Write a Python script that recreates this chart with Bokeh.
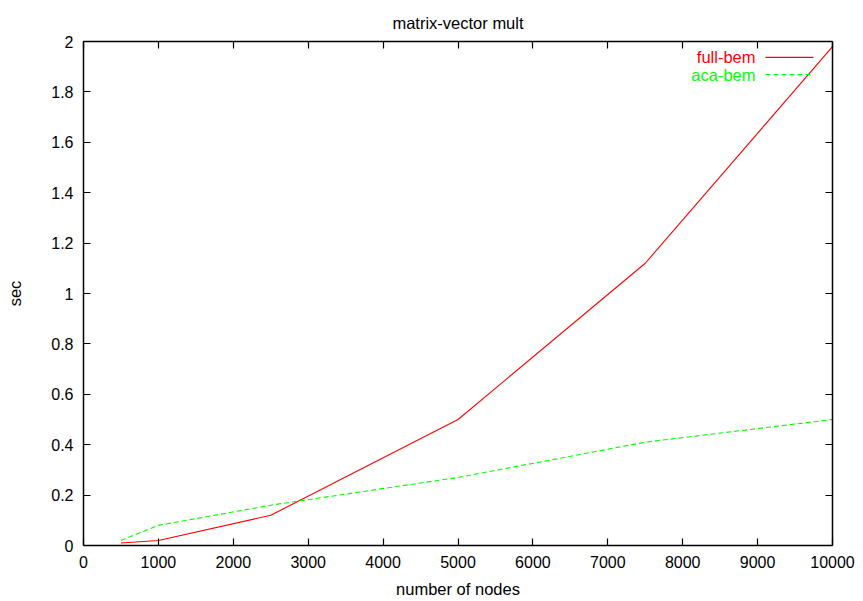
from bokeh.plotting import figure
from bokeh.models import (Range1d, LinearAxis, SingleIntervalTicker, Label, Arrow,
                          CustomJSTickFormatter, ColumnDataSource)
from bokeh.embed import file_html
from bokeh.resources import INLINE

# timings (seconds) for matrix-vector multiplication
nodes = [500, 1000, 2500, 5000, 7500, 10000]
full_bem = [0.01, 0.02, 0.12, 0.50, 1.12, 1.98]
aca_bem = [0.02, 0.08, 0.16, 0.27, 0.41, 0.50]

series_names = ["full-bem", "aca-bem"]
series_colors = ["#ff0000", "#00ff00"]

FONT = "Liberation Sans"
TEXT_SIZE = "16.5px"
TICK_SIZE = "16px"
X_MAX, Y_MAX = 10000, 2.0

p = figure(width=863, height=601, output_backend="svg", toolbar_location=None,
           x_range=Range1d(0, X_MAX), y_range=Range1d(0, Y_MAX),
           min_border_left=83, min_border_right=31, min_border_top=41, min_border_bottom=56)
p.title.text = "matrix-vector mult"
p.title.align = "center"
p.title.text_font = FONT
p.title.text_font_size = TEXT_SIZE
p.title.text_font_style = "normal"
p.title.text_color = "#000000"
p.title.standoff = 20

p.grid.visible = False
p.outline_line_color = None
p.background_fill_color = "white"
p.border_fill_color = "white"

xt = SingleIntervalTicker(interval=1000, num_minor_ticks=0)
yt = SingleIntervalTicker(interval=0.2, num_minor_ticks=0)


def style_axis(ax, ticker):
    ax.ticker = ticker
    ax.axis_line_color = "#000000"
    ax.axis_line_width = 1.5
    ax.major_tick_line_color = "#000000"
    ax.major_tick_line_width = 1.2
    ax.major_tick_in = 7
    ax.major_tick_out = 0
    ax.minor_tick_line_color = None
    ax.major_label_text_font = FONT
    ax.major_label_text_font_size = TICK_SIZE
    ax.major_label_text_color = "#000000"
    ax.axis_label_text_font = FONT
    ax.axis_label_text_font_size = TEXT_SIZE
    ax.axis_label_text_font_style = "normal"
    ax.axis_label_text_color = "#000000"


style_axis(p.xaxis[0], xt)
style_axis(p.yaxis[0], yt)
p.xaxis[0].axis_label = "number of nodes"
p.xaxis[0].major_label_standoff = 10
p.xaxis[0].axis_label_standoff = 9
p.yaxis[0].axis_label = "sec"
p.yaxis[0].major_label_standoff = 10
p.yaxis[0].axis_label_standoff = 24
p.yaxis[0].formatter = CustomJSTickFormatter(code="return String(Math.round(tick*10)/10);")

# mirrored frame on top and right (ticks only, no labels)
blank = CustomJSTickFormatter(code="return '';")
top = LinearAxis(formatter=blank)
style_axis(top, xt)
top.major_label_standoff = 0
top.major_label_text_font_size = "0px"
right = LinearAxis(formatter=blank)
style_axis(right, yt)
right.major_label_standoff = 0
right.major_label_text_font_size = "0px"
p.add_layout(top, "above")
p.add_layout(right, "right")

src = ColumnDataSource(dict(x=nodes, full=full_bem, aca=aca_bem))
p.line("x", "full", source=src, line_color=series_colors[0], line_width=1.1)
p.line("x", "aca", source=src, line_color=series_colors[1], line_width=1.1, line_dash="5 3")

# key in the upper right corner: label text then a line sample
key_text_x = 0.8972 * X_MAX
key_line = (0.9105 * X_MAX, 0.9746 * X_MAX)
key_rows = [0.9685 * Y_MAX, 0.9345 * Y_MAX]
dashes = ["solid", "5 3"]
for name, color, yy, dash in zip(series_names, series_colors, key_rows, dashes):
    p.add_layout(Label(x=key_text_x, y=yy, text=name, text_align="right",
                       text_baseline="middle", text_color=color, text_font=FONT,
                       text_font_size=TEXT_SIZE))
    p.add_layout(Arrow(x_start=key_line[0], y_start=yy, x_end=key_line[1], y_end=yy,
                       end=None, line_color=color, line_width=1.1, line_dash=dash))

open("out.html", "w").write(file_html(p, INLINE))
